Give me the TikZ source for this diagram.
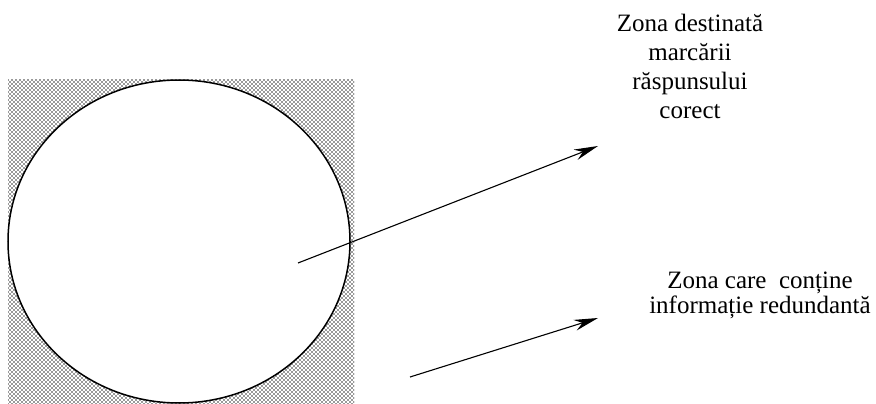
\documentclass[tikz,border=0pt]{standalone}
\usepackage{fontspec}
\setmainfont{Liberation Serif}
\usetikzlibrary{patterns,arrows.meta}
\pgfdeclarepatternformonly{scandots}{\pgfqpoint{-1pt}{-1pt}}{\pgfqpoint{5pt}{5pt}}{\pgfqpoint{4pt}{4pt}}{%
  \pgfpathcircle{\pgfqpoint{0pt}{0pt}}{0.8pt}%
  \pgfpathcircle{\pgfqpoint{2pt}{2pt}}{0.8pt}%
  \pgfusepath{fill}}
\begin{document}
\begin{tikzpicture}[x=1pt,y=-1pt,
  lbl/.style={inner sep=0pt,align=center,font=\fontsize{25}{29}\selectfont},
  arr/.style={line width=1.1pt,-{Stealth[length=24pt,width=11pt]}}]
\useasboundingbox (0,0) rectangle (876,404);
\fill[white] (0,0) rectangle (876,404);
% hatched square
\path[pattern=scandots,pattern color=black!80] (8,80) rectangle (354,404);
% circle
\draw[line width=1.5pt,fill=white] (179,241.5) ellipse [x radius=171,y radius=161.5];
% texts
\node[lbl,anchor=base] (t1) at (690,118) {Zona destinată\\marcării\\răspunsului\\corect};
\node[lbl,anchor=base,font=\fontsize{25}{25}\selectfont] (t2) at (760,313) {Zona care\ \ conține\\informație redundantă};
% arrows
\coordinate (a1s) at (298,263);
\coordinate (a1e) at (598,146);
\coordinate (a2s) at (410,377);
\coordinate (a2e) at (598,318);
\draw[arr] (a1s) -- (a1e);
\draw[arr] (a2s) -- (a2e);
\end{tikzpicture}
\end{document}
